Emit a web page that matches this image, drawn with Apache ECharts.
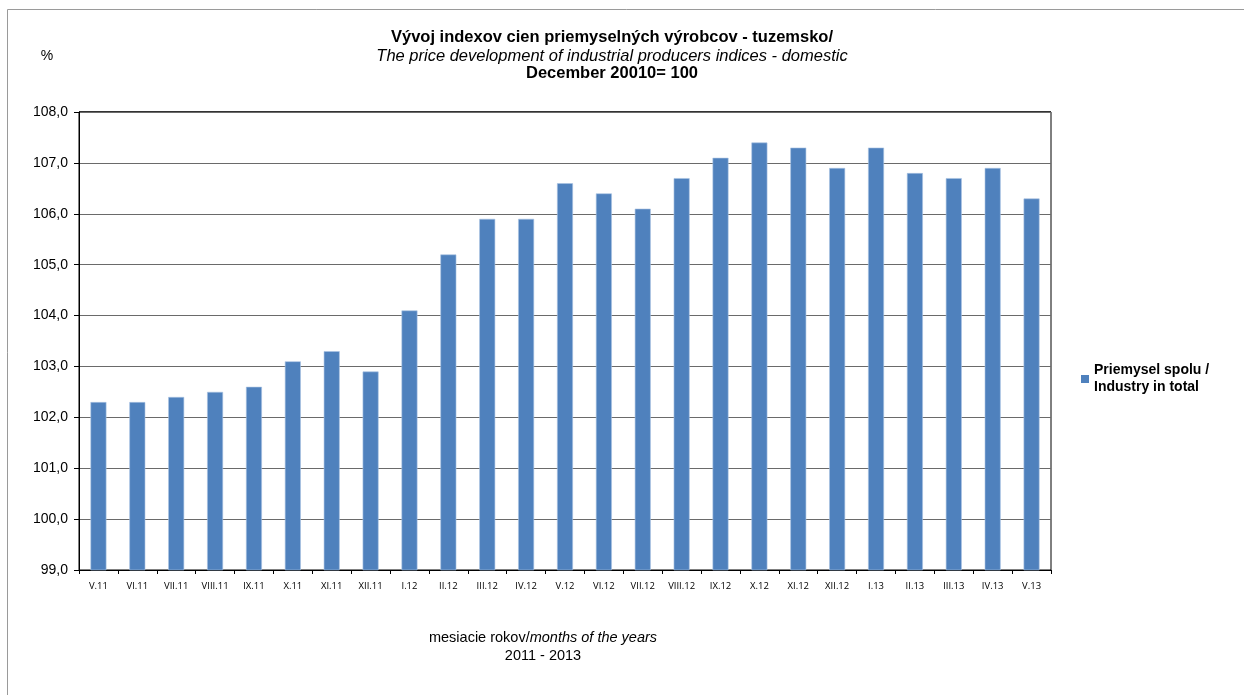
<!DOCTYPE html>
<html>
<head>
<meta charset="utf-8">
<script src="https://cdn.jsdelivr.net/npm/echarts@6/dist/echarts.min.js"></script>
<style>html,body{margin:0;padding:0;background:#fff}#c{width:1244px;height:695px}</style>
</head>
<body>
<div id="c"></div>
<script>
var categories = ["V.11","VI.11","VII.11","VIII.11","IX.11","X.11","XI.11","XII.11","I.12","II.12","III.12","IV.12","V.12","VI.12","VII.12","VIII.12","IX.12","X.12","XI.12","XII.12","I.13","II.13","III.13","IV.13","V.13"];
var industryTotal = [102.3,102.3,102.4,102.5,102.6,103.1,103.3,102.9,104.1,105.2,105.9,105.9,106.6,106.4,106.1,106.7,107.1,107.4,107.3,106.9,107.3,106.8,106.7,106.9,106.3];
var seriesName = "Priemysel spolu / Industry in total";

var chart = echarts.init(document.getElementById('c'), null, {renderer: 'canvas'});
var font = "'Liberation Sans', Arial, sans-serif";
var cx = 612;
chart.setOption({
  animation: false,
  backgroundColor: '#fff',
  textStyle: {fontFamily: font},
  grid: {left: 79, right: 193, top: 112, bottom: 125, show: true, borderColor: '#000', borderWidth: 1},
  legend: {
    left: 1081, top: 362, orient: 'vertical', padding: 0,
    itemWidth: 8, itemHeight: 8, icon: 'rect', itemGap: 4,
    itemStyle: {borderWidth: 0},
    formatter: function(){ return 'Priemysel spolu /\nIndustry in total'; },
    textStyle: {fontFamily: font, fontSize: 14, fontWeight: 'bold', color: '#000', lineHeight: 17}
  },
  xAxis: {
    type: 'category', data: categories,
    axisLine: {lineStyle: {color: '#000', width: 1}},
    axisTick: {show: true, length: 4, lineStyle: {color: '#000'}},
    axisLabel: {fontFamily: "'Open Sans', 'DejaVu Sans', sans-serif", fontSize: 9.5, color: '#000', margin: 11, interval: 0}
  },
  yAxis: {
    type: 'value', min: 99, max: 108, interval: 1,
    axisLine: {show: true, lineStyle: {color: '#000', width: 1}},
    axisTick: {show: true, length: 5, lineStyle: {color: '#000'}},
    axisLabel: {fontFamily: font, fontSize: 14, color: '#000', margin: 11,
      formatter: function(v){ return v.toFixed(1).replace('.', ','); }},
    splitLine: {lineStyle: {color: '#6a6a6a', width: 1.2}}
  },
  series: [{
    name: seriesName, type: 'bar', data: industryTotal, barWidth: '41%',
    itemStyle: {color: '#4f81bd', borderColor: '#a9c3e3', borderWidth: 0.6}
  }],
  graphic: [
    {type: 'rect', shape: {x: 7.5, y: 9.5, width: 1300, height: 800}, style: {fill: 'none', stroke: '#9a9a9a', lineWidth: 1}, silent: true},
    {type: 'rect', shape: {x: 79, y: 111, width: 972, height: 2}, style: {fill: '#333'}, silent: true},
    {type: 'text', x: cx, y: 37, style: {text: 'Vývoj indexov cien priemyselných výrobcov - tuzemsko/', font: 'bold 16.5px ' + font, fill: '#000', align: 'center', verticalAlign: 'middle'}},
    {type: 'text', x: cx, y: 56, style: {text: 'The price development of industrial producers indices - domestic', font: 'italic 16.5px ' + font, fill: '#000', align: 'center', verticalAlign: 'middle'}},
    {type: 'text', x: cx, y: 73, style: {text: 'December 20010= 100', font: 'bold 16.5px ' + font, fill: '#000', align: 'center', verticalAlign: 'middle'}},
    {type: 'text', x: 47, y: 56, style: {text: '%', font: '14px ' + font, fill: '#000', align: 'center', verticalAlign: 'middle'}},
    {type: 'text', x: 543, y: 638, style: {
      text: '{n|mesiacie rokov/}{i|months of the years}', align: 'center', verticalAlign: 'middle',
      rich: {n: {font: '14.5px ' + font, fill: '#000'}, i: {font: 'italic 14.5px ' + font, fill: '#000'}}}},
    {type: 'text', x: 543, y: 656, style: {text: '2011 - 2013', font: '14.5px ' + font, fill: '#000', align: 'center', verticalAlign: 'middle'}}
  ]
});
</script>
</body>
</html>
